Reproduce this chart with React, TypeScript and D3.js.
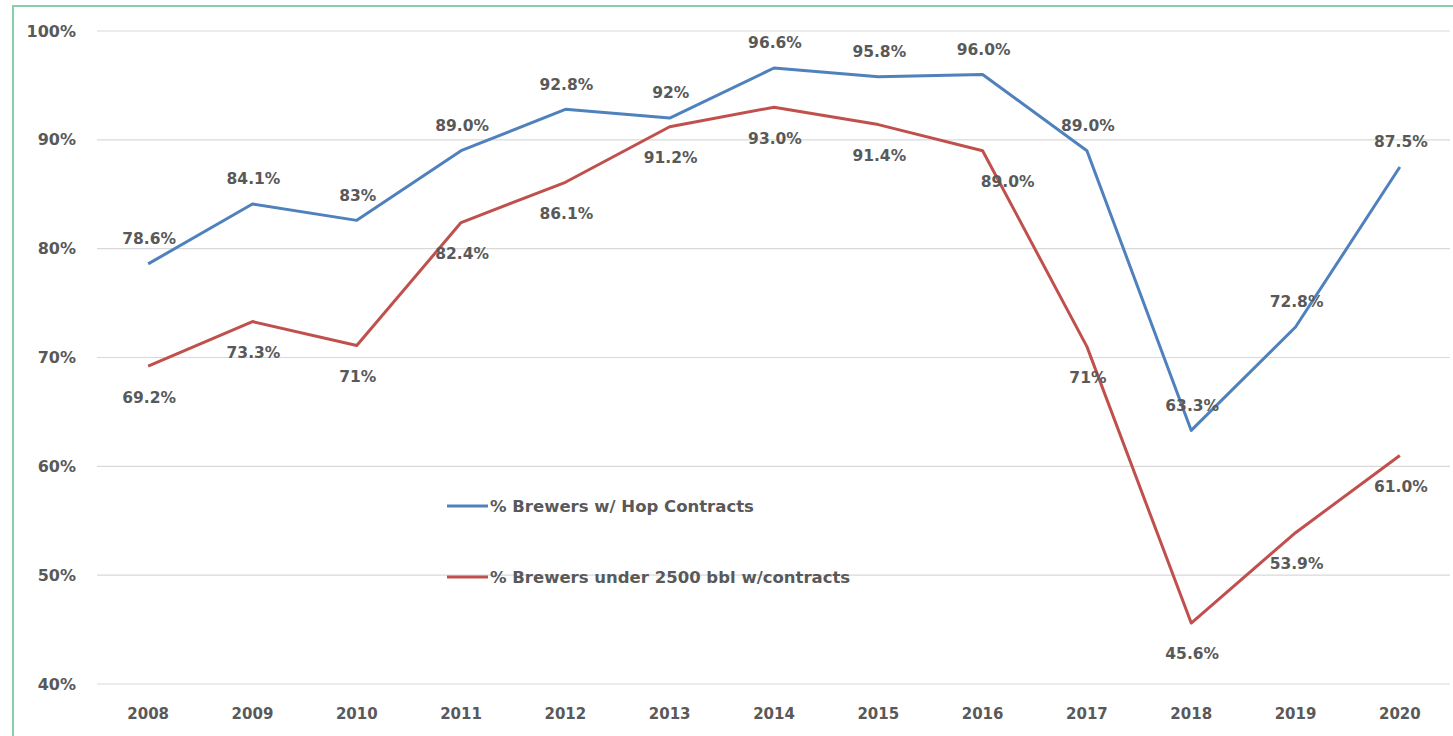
import React from "react";
import * as d3 from "d3";

const years = ["2008","2009","2010","2011","2012","2013","2014","2015","2016","2017","2018","2019","2020"];
const hopValues = [78.6, 84.1, 82.6, 89.0, 92.8, 92.0, 96.6, 95.8, 96.0, 89.0, 63.3, 72.8, 87.5];
const hopLabels = ["78.6%","84.1%","83%","89.0%","92.8%","92%","96.6%","95.8%","96.0%","89.0%","63.3%","72.8%","87.5%"];
const smallValues = [69.2, 73.3, 71.1, 82.4, 86.1, 91.2, 93.0, 91.4, 89.0, 71.0, 45.6, 53.9, 61.0];
const smallLabels = ["69.2%","73.3%","71%","82.4%","86.1%","91.2%","93.0%","91.4%","89.0%","71%","45.6%","53.9%","61.0%"];
const yTicks = [40, 50, 60, 70, 80, 90, 100];
const seriesNames = ["% Brewers w/ Hop Contracts", "% Brewers under 2500 bbl w/contracts"];

const W = 1453, H = 736;
const BLUE = "#4F81BD", RED = "#C0504D", TXT = "#595959";
const FONT = "'DejaVu Sans', sans-serif";

export default function App() {
  const x = d3.scaleBand<string>().domain(years).range([96, 1452]);
  const cx = (y: string) => (x(y) as number) + x.bandwidth() / 2;
  const y = d3.scaleLinear().domain([40, 100]).range([684, 31]);
  const line = d3.line<number>().x((_, i) => cx(years[i])).y(d => y(d));

  return (
    <svg width={W} height={H} style={{ position: "absolute", left: 0, top: 0, background: "#fff" }}>
      <rect x={13} y={6} width={W + 20} height={H + 20} fill="#fff" stroke="#86CFA8" strokeWidth={2} />
      {yTicks.map(t => (
        <g key={t}>
          <line x1={97} x2={1450} y1={y(t)} y2={y(t)} stroke="#d9d9d9" strokeWidth={1.2} />
          <text x={76} y={y(t)} dy="0.35em" textAnchor="end" fontFamily={FONT} fontWeight={700} fontSize={16} fill={TXT}>{t}%</text>
        </g>
      ))}
      {years.map(yr => (
        <text key={yr} x={cx(yr)} y={714} dy="0.35em" textAnchor="middle" fontFamily={FONT} fontWeight={700} fontSize={15} fill={TXT}>{yr}</text>
      ))}
      <path d={line(smallValues) || ""} fill="none" stroke={RED} strokeWidth={3} strokeLinejoin="round" />
      <path d={line(hopValues) || ""} fill="none" stroke={BLUE} strokeWidth={3} strokeLinejoin="round" />
      {hopValues.map((v, i) => (
        <text key={"h" + i} x={cx(years[i]) + 1} y={y(v) - 25} dy="0.35em" textAnchor="middle" fontFamily={FONT} fontWeight={700} fontSize={15.5} fill={TXT}>{hopLabels[i]}</text>
      ))}
      {smallValues.map((v, i) => (
        <text key={"s" + i} x={cx(years[i]) + (years[i] === "2016" ? 25 : 1)} y={y(v) + 31} dy="0.35em" textAnchor="middle" fontFamily={FONT} fontWeight={700} fontSize={15.5} fill={TXT}>{smallLabels[i]}</text>
      ))}
      <line x1={447} x2={488} y1={506} y2={506} stroke={BLUE} strokeWidth={3} />
      <text x={490} y={506} dy="0.35em" fontFamily={FONT} fontWeight={700} fontSize={16.5} fill={TXT}>{seriesNames[0]}</text>
      <line x1={447} x2={488} y1={577} y2={577} stroke={RED} strokeWidth={3} />
      <text x={490} y={577} dy="0.35em" fontFamily={FONT} fontWeight={700} fontSize={16.5} fill={TXT}>{seriesNames[1]}</text>
    </svg>
  );
}
